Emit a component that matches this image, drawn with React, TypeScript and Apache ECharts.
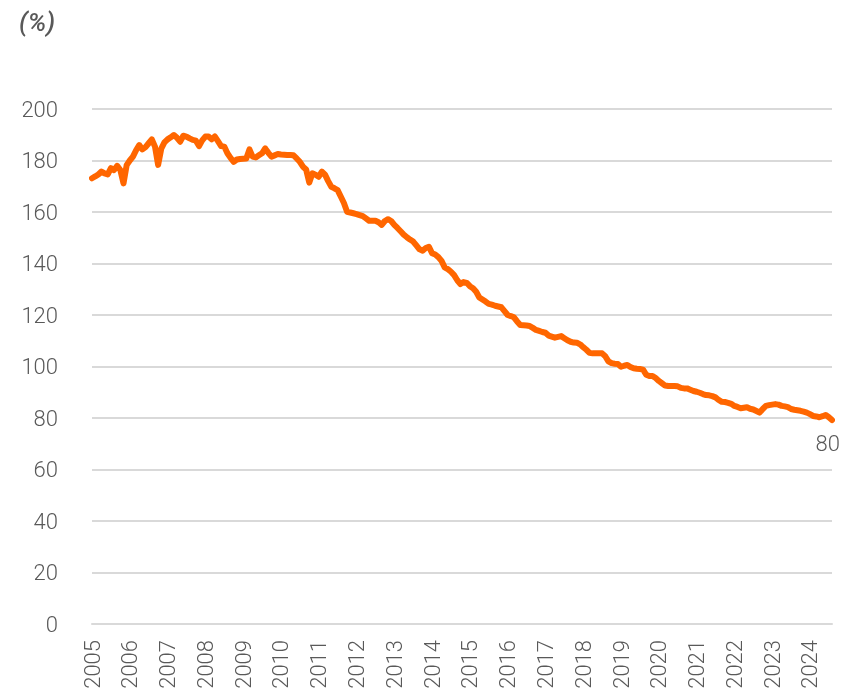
import React, { useEffect, useRef } from "react";
import * as echarts from "echarts";

const years = [2005, 2006, 2007, 2008, 2009, 2010, 2011, 2012, 2013, 2014, 2015, 2016, 2017, 2018, 2019, 2020, 2021, 2022, 2023, 2024];
const monthsPerYear = 12;
const lastYearMonths = 8;

const v2005 = [173.1, 173.8, 174.6, 175.7, 175.0, 174.6, 177.0, 176.3, 177.9, 176.3, 171.1, 178.2];
const v2006 = [180.0, 181.5, 184.0, 186.0, 184.3, 185.2, 186.7, 188.2, 185.4, 178.3, 184.6, 187.0];
const v2007 = [188.2, 189.0, 189.9, 188.8, 187.3, 189.6, 189.3, 188.6, 188.0, 187.7, 185.6, 187.8];
const v2008 = [189.3, 189.3, 188.2, 189.3, 187.5, 185.6, 185.4, 182.8, 181.0, 179.5, 180.4, 180.6];
const v2009 = [180.7, 180.8, 184.3, 181.5, 181.2, 182.0, 182.8, 184.7, 183.0, 181.5, 182.0, 182.5];
const v2010 = [182.3, 182.2, 182.1, 182.1, 182.0, 180.8, 179.5, 177.6, 176.5, 171.4, 175.0, 174.5];
const v2011 = [173.7, 175.7, 174.5, 172.0, 169.8, 169.2, 168.5, 166.0, 163.5, 160.1, 159.8, 159.5];
const v2012 = [159.2, 158.8, 158.4, 157.5, 156.6, 156.6, 156.6, 156.0, 155.0, 156.5, 157.2, 156.5];
const v2013 = [155.0, 153.8, 152.5, 151.2, 150.2, 149.3, 148.5, 147.0, 145.5, 145.0, 146.0, 146.5];
const v2014 = [144.0, 143.5, 142.5, 141.0, 138.5, 137.8, 136.8, 135.5, 133.5, 132.0, 132.8, 132.5];
const v2015 = [131.2, 130.4, 129.0, 126.8, 126.0, 125.2, 124.3, 124.0, 123.6, 123.3, 123.0, 121.5];
const v2016 = [120.0, 119.6, 119.1, 117.5, 116.1, 116.0, 115.9, 115.7, 115.0, 114.2, 113.8, 113.4];
const v2017 = [113.1, 112.0, 111.6, 111.2, 111.5, 111.8, 111.0, 110.2, 109.6, 109.3, 109.2, 108.6];
const v2018 = [107.5, 106.5, 105.3, 105.1, 105.1, 105.1, 105.1, 104.0, 102.0, 101.3, 101.1, 101.0];
const v2019 = [99.9, 100.3, 100.6, 99.8, 99.3, 99.1, 99.0, 98.8, 96.8, 96.3, 96.3, 95.5];
const v2020 = [94.4, 93.5, 92.6, 92.4, 92.4, 92.4, 92.3, 91.7, 91.5, 91.5, 91.0, 90.5];
const v2021 = [90.2, 89.8, 89.3, 88.9, 88.8, 88.5, 88.0, 87.0, 86.3, 86.2, 85.9, 85.5];
const v2022 = [84.7, 84.3, 83.8, 84.0, 84.2, 83.6, 83.3, 82.7, 82.1, 83.5, 84.7, 85.0];
const v2023 = [85.2, 85.4, 85.2, 84.7, 84.5, 84.2, 83.5, 83.2, 83.0, 82.8, 82.5, 82.1];
const v2024 = [81.5, 80.8, 80.6, 80.3, 80.7, 81.2, 80.3, 79.2];

const yTicks = [0, 20, 40, 60, 80, 100, 120, 140, 160, 180, 200];
const endLabel = "80";
const unitLabel = "(%)";

const values = [
  ...v2005, ...v2006, ...v2007, ...v2008, ...v2009, ...v2010, ...v2011, ...v2012, ...v2013, ...v2014,
  ...v2015, ...v2016, ...v2017, ...v2018, ...v2019, ...v2020, ...v2021, ...v2022, ...v2023, ...v2024,
];

const categories: string[] = [];
years.forEach((y, yi) => {
  const n = yi === years.length - 1 ? lastYearMonths : monthsPerYear;
  for (let m = 1; m <= n; m++) categories.push(`${y}-${String(m).padStart(2, "0")}`);
});

const FONT = "Roboto";
const GREY = "#595959";

export default function App() {
  const ref = useRef<HTMLDivElement>(null);
  useEffect(() => {
    if (!ref.current) return;
    const chart = echarts.init(ref.current, null, { renderer: "svg" });
    chart.setOption({
      animation: false,
      grid: { left: 92, right: 9, top: 109, bottom: 68, containLabel: false },
      graphic: [
        {
          type: "text",
          left: 19,
          top: 9,
          style: {
            text: unitLabel,
            font: `italic 500 26px ${FONT}`,
            fill: GREY,
          },
        },
      ],
      xAxis: {
        type: "category",
        data: categories,
        boundaryGap: false,
        axisLine: { show: true, lineStyle: { color: "#d9d9d9", width: 2 } },
        axisTick: { show: false },
        axisLabel: {
          interval: 11,
          rotate: 90,
          margin: 16,
          fontFamily: FONT,
          fontWeight: 300,
          fontSize: 22,
          color: GREY,
          formatter: (v: string) => v.slice(0, 4),
        },
        splitLine: { show: false },
      },
      yAxis: {
        type: "value",
        min: yTicks[0],
        max: yTicks[yTicks.length - 1],
        interval: yTicks[1] - yTicks[0],
        axisLine: { show: false },
        axisTick: { show: false },
        axisLabel: {
          margin: 34,
          fontFamily: FONT,
          fontWeight: 300,
          fontSize: 22,
          color: GREY,
        },
        splitLine: { show: true, lineStyle: { color: "#d9d9d9", width: 2 } },
      },
      series: [
        {
          type: "line",
          data: values,
          showSymbol: false,
          symbol: "none",
          lineStyle: { color: "#FF6600", width: 6, join: "round", cap: "round" },
          itemStyle: { color: "#FF6600" },
          endLabel: {
            show: true,
            formatter: () => endLabel,
            align: "right",
            verticalAlign: "top",
            distance: 0,
            offset: [8, 12],
            fontFamily: FONT,
            fontWeight: 300,
            fontSize: 22,
            color: GREY,
          },
        },
      ],
    });
    return () => chart.dispose();
  }, []);
  return (
    <div
      ref={ref}
      style={{ position: "fixed", left: 0, top: 0, width: 841, height: 692 }}
    />
  );
}
